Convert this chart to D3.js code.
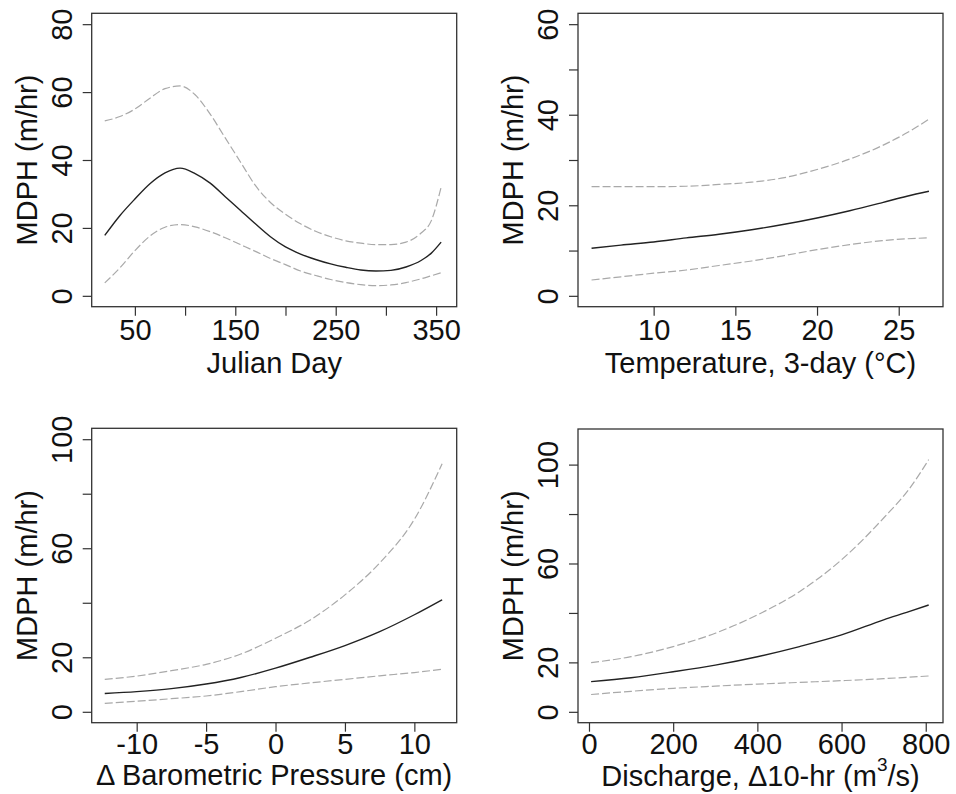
<!DOCTYPE html>
<html>
<head>
<meta charset="utf-8">
<script src="https://cdn.jsdelivr.net/npm/d3@7"></script>
<style>
  body { margin: 0; background: #fff; }
  svg text { font-family: "Liberation Sans", Arial, sans-serif; fill: #111; }
</style>
</head>
<body>
<script>
// ---- data ----
// Julian day panel
var julianDay   = [20, 35, 50, 65, 80, 95, 110, 125, 140, 155, 170, 185, 200, 215, 230, 245, 260, 275, 290, 305, 320, 335, 345, 355];
var julianMean  = [17.8, 23.6, 28.5, 33, 36.2, 37.6, 36, 33.2, 29.2, 25.2, 21.2, 17.4, 14.4, 12.3, 10.7, 9.4, 8.4, 7.6, 7.3, 7.5, 8.5, 10.4, 12.5, 15.8];
var julianUpper = [51.5, 52.8, 55, 58.2, 61, 61.8, 59.2, 53.5, 46.5, 39.5, 32.5, 27.5, 24, 21.2, 19, 17.4, 16.2, 15.5, 15.1, 15.1, 15.8, 18.5, 22, 32];
var julianLower = [3.8, 8.2, 13.3, 17.6, 20.2, 21, 20.3, 18.9, 17.1, 15.1, 13.1, 11, 9.2, 7.3, 6, 4.8, 3.9, 3.3, 3.0, 3.2, 3.9, 5, 5.9, 6.8];

// temperature panel
var tempX     = [6.2, 8, 10, 12, 14, 16, 18, 20, 22, 24, 25.5, 26.85];
var tempMean  = [10.5, 11.2, 11.9, 12.8, 13.6, 14.6, 15.8, 17.2, 18.8, 20.6, 22, 23.1];
var tempUpper = [24.1, 24.1, 24.1, 24.2, 24.6, 25.1, 26.1, 27.9, 30.2, 33.2, 36, 39];
var tempLower = [3.5, 4.2, 5, 5.7, 6.7, 7.7, 8.9, 10.2, 11.3, 12.2, 12.6, 12.8];

// barometric pressure panel
var baroX     = [-12.3, -10, -7.5, -5, -2.5, 0, 2.5, 5, 7.5, 10, 12];
var baroMean  = [6.7, 7.4, 8.5, 10.2, 12.6, 16, 20, 24.3, 29.4, 35.6, 41.1];
var baroUpper = [11.9, 13.1, 15.1, 17.4, 21.2, 27, 33.7, 42.9, 54.6, 70.6, 91];
var baroLower = [3.1, 3.9, 4.8, 5.8, 7.4, 9.2, 10.6, 11.9, 13.2, 14.4, 15.6];

// discharge panel
var dischX     = [5, 100, 200, 300, 400, 500, 600, 700, 760, 807];
var dischMean  = [12.2, 13.8, 16.2, 18.9, 22.3, 26.4, 31.1, 37.2, 40.5, 43.2];
var dischUpper = [19.9, 22.3, 26.4, 31.8, 39.2, 48.6, 61.5, 78.4, 90, 102];
var dischLower = [7, 8.3, 9.5, 10.4, 11.2, 11.9, 12.6, 13.4, 14, 14.5];

// tick values and which ones get a label
var julianXTicks = [50, 100, 150, 200, 250, 300, 350], julianXLabels = [50, 150, 250, 350];
var julianYTicks = [0, 20, 40, 60, 80],                julianYLabels = [0, 20, 40, 60, 80];
var tempXTicks   = [10, 15, 20, 25],                   tempXLabels   = [10, 15, 20, 25];
var tempYTicks   = [0, 10, 20, 30, 40, 50, 60],        tempYLabels   = [0, 20, 40, 60];
var baroXTicks   = [-10, -5, 0, 5, 10],                baroXLabels   = [-10, -5, 0, 5, 10];
var baroYTicks   = [0, 20, 40, 60, 80, 100],           baroYLabels   = [0, 20, 60, 100];
var dischXTicks  = [0, 200, 400, 600, 800],            dischXLabels  = [0, 200, 400, 600, 800];
var dischYTicks  = [0, 20, 40, 60, 80, 100],           dischYLabels  = [0, 20, 60, 100];

var yTitle = "MDPH (m/hr)";

// ---- panels ----
var panels = [
  {box: [91.7, 13.3, 456.7, 306.7], xd: [7, 370.5], yd: [-3.2, 83.2],
   x: julianDay, mean: julianMean, upper: julianUpper, lower: julianLower,
   xt: julianXTicks, xl: julianXLabels, yt: julianYTicks, yl: julianYLabels,
   title: "Julian Day", tickY: 33.3, titleY: 66},
  {box: [578, 13.3, 943, 306.7], xd: [5.37, 27.71], yd: [-2.4, 62.4],
   x: tempX, mean: tempMean, upper: tempUpper, lower: tempLower,
   xt: tempXTicks, xl: tempXLabels, yt: tempYTicks, yl: tempYLabels,
   title: "Temperature, 3-day (°C)", tickY: 33.3, titleY: 66},
  {box: [91.7, 428.3, 456.7, 722.7], xd: [-13.24, 13.05], yd: [-4, 104],
   x: baroX, mean: baroMean, upper: baroUpper, lower: baroLower,
   xt: baroXTicks, xl: baroXLabels, yt: baroYTicks, yl: baroYLabels,
   title: "Δ Barometric Pressure (cm)", tickY: 31.5, titleY: 62.5},
  {box: [578, 429, 943, 722.7], xd: [-26.1, 841], yd: [-4.4, 114.4],
   x: dischX, mean: dischMean, upper: dischUpper, lower: dischLower,
   xt: dischXTicks, xl: dischXLabels, yt: dischYTicks, yl: dischYLabels,
   title: null, tickY: 31.5, titleY: 63}
];

var svg = d3.select("body").append("svg")
    .attr("width", 956)
    .attr("height", 794);

panels.forEach(function(p, i) {
  var w = p.box[2] - p.box[0],
      h = p.box[3] - p.box[1];

  var g = svg.append("g")
      .attr("transform", "translate(" + p.box[0] + "," + p.box[1] + ")");

  var x = d3.scaleLinear().domain(p.xd).range([0, w]);
  var y = d3.scaleLinear().domain(p.yd).range([h, 0]);

  // x axis
  var xAxis = g.append("g")
      .attr("transform", "translate(0," + h + ")")
      .call(d3.axisBottom(x)
        .tickValues(p.xt)
        .tickSize(9)
        .tickFormat(function(d) { return p.xl.indexOf(d) >= 0 ? d : ""; }));
  xAxis.select(".domain").remove();
  xAxis.selectAll("line").attr("stroke", "#333").attr("stroke-width", 1.2);
  xAxis.selectAll("text")
      .attr("y", p.tickY)
      .attr("dy", null)
      .attr("font-size", 29)
      .attr("fill", "#111");

  // y axis (labels rotated like R)
  var yAxis = g.append("g")
      .call(d3.axisLeft(y)
        .tickValues(p.yt)
        .tickSize(9)
        .tickFormat(function(d) { return p.yl.indexOf(d) >= 0 ? d : ""; }));
  yAxis.select(".domain").remove();
  yAxis.selectAll("line").attr("stroke", "#333").attr("stroke-width", 1.2);
  yAxis.selectAll("text")
      .attr("x", null)
      .attr("dy", null)
      .attr("text-anchor", "middle")
      .attr("transform", "translate(-20,0) rotate(-90)")
      .attr("font-size", 29)
      .attr("fill", "#111");

  // curves
  var line = d3.line()
      .x(function(d) { return x(d[0]); })
      .y(function(d) { return y(d[1]); })
      .curve(d3.curveMonotoneX);

  function pairs(vals) { return p.x.map(function(v, k) { return [v, vals[k]]; }); }

  g.append("path").datum(pairs(p.upper))
      .attr("d", line).attr("fill", "none")
      .attr("stroke", "#a9a9a9").attr("stroke-width", 1.2)
      .attr("stroke-dasharray", "8,3");
  g.append("path").datum(pairs(p.lower))
      .attr("d", line).attr("fill", "none")
      .attr("stroke", "#a9a9a9").attr("stroke-width", 1.2)
      .attr("stroke-dasharray", "8,3");
  g.append("path").datum(pairs(p.mean))
      .attr("d", line).attr("fill", "none")
      .attr("stroke", "#222").attr("stroke-width", 1.4);

  // frame
  g.append("rect")
      .attr("width", w).attr("height", h)
      .attr("fill", "none")
      .attr("stroke", "#333").attr("stroke-width", 1.3);

  // axis titles
  var t = g.append("text")
      .attr("x", w / 2)
      .attr("y", h + p.titleY)
      .attr("text-anchor", "middle")
      .attr("font-size", 29);
  if (p.title) {
    t.text(p.title);
  } else {
    t.append("tspan").text("Discharge, Δ10-hr (m");
    t.append("tspan").attr("dy", -15).attr("font-size", 19).text("3");
    t.append("tspan").attr("dy", 15).text("/s)");
  }

  g.append("text")
      .attr("transform", "translate(-54.7," + (h / 2) + ") rotate(-90)")
      .attr("text-anchor", "middle")
      .attr("font-size", 29)
      .text(yTitle);
});
</script>
</body>
</html>
